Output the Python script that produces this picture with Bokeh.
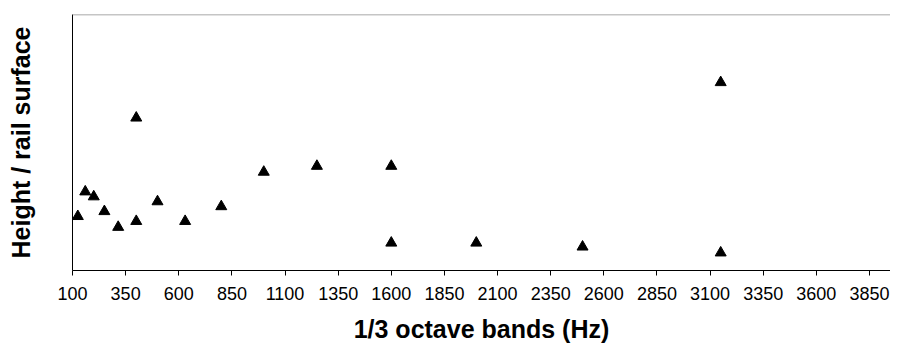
from bokeh.plotting import figure
from bokeh.models import FixedTicker, Span, Range1d, ColumnDataSource
from bokeh.embed import file_html
from bokeh.resources import INLINE

# 1/3 octave band centre frequencies (Hz) and heights (arbitrary units, axis has no scale)
freq = [125, 160, 200, 250, 315, 400, 400, 500, 630, 800, 1000, 1250,
        1600, 1600, 2000, 2500, 3150, 3150, 4000, 4000, 4000]
height = [5.5, 8.0, 7.5, 6.0, 4.4, 5.0, 15.5, 7.0, 5.0, 6.5, 10.0, 10.6,
          10.6, 2.8, 2.8, 2.4, 19.1, 1.8, 22.6, 19.1, 1.7]

x_ticks = [100, 350, 600, 850, 1100, 1350, 1600, 1850, 2100, 2350, 2600,
           2850, 3100, 3350, 3600, 3850]

x_title = "1/3 octave bands (Hz)"
y_title = "Height / rail surface"

src = ColumnDataSource(dict(x=freq, y=height))

p = figure(width=890, height=345, output_backend="svg", toolbar_location=None,
           x_range=Range1d(100, 3949), y_range=Range1d(0, 26),
           min_border_left=72, min_border_right=0, min_border_top=14,
           min_border_bottom=71)
p.background_fill_color = "white"
p.border_fill_color = "white"
p.outline_line_color = None
p.grid.visible = False

p.scatter("x", "y", source=src, marker="triangle", size=11,
          fill_color="black", line_color="black", line_width=1)

top_line = Span(location=26, dimension="width", line_color="#8c8c8c", line_width=1.5)
p.add_layout(top_line)

xa = p.xaxis[0]
xa.ticker = FixedTicker(ticks=x_ticks)
xa.minor_tick_line_color = None
xa.major_tick_in = 0
xa.major_tick_out = 5
xa.axis_line_color = "black"
xa.major_tick_line_color = "black"
xa.major_label_text_font = "Liberation Sans"
xa.major_label_text_font_size = "18px"
xa.major_label_text_color = "black"
xa.major_label_standoff = 11
xa.axis_label = x_title
xa.axis_label_text_font = "Liberation Sans"
xa.axis_label_text_font_style = "bold"
xa.axis_label_text_font_size = "25px"
xa.axis_label_text_color = "black"
xa.axis_label_standoff = 12

ya = p.yaxis[0]
ya.ticker = FixedTicker(ticks=[])
ya.minor_tick_line_color = None
ya.major_tick_in = 0
ya.major_tick_out = 0
ya.major_label_text_font_size = "0px"
ya.axis_line_color = "black"
ya.axis_label = y_title
ya.axis_label_text_font = "Liberation Sans"
ya.axis_label_text_font_style = "bold"
ya.axis_label_text_font_size = "25px"
ya.axis_label_text_color = "black"
ya.axis_label_standoff = 38

open("out.html", "w").write(file_html(p, INLINE))
